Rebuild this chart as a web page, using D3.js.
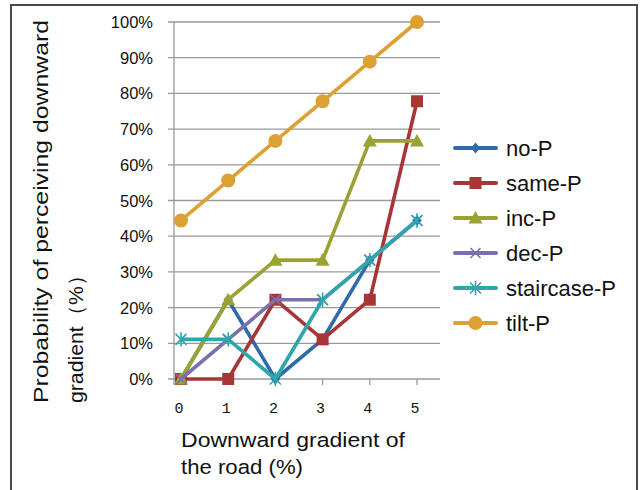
<!DOCTYPE html>
<html><head><meta charset="utf-8">
<script src="https://cdn.jsdelivr.net/npm/d3@7"></script>
<style>body{margin:0;background:#fff}svg{display:block}</style>
</head><body>
<svg id="c" width="642" height="490"></svg>
<script>
const categories = [0, 1, 2, 3, 4, 5];
const seriesNames = ["no-P", "same-P", "inc-P", "dec-P", "staircase-P", "tilt-P"];
const noP = [0, 22.2, 0, 11.1, 33.3, 44.4];
const sameP = [0, 0, 22.2, 11.1, 22.2, 77.8];
const incP = [0, 22.2, 33.3, 33.3, 66.7, 66.7];
const decP = [0, 11.1, 22.2, 22.2, 33.3, 44.4];
const staircaseP = [11.1, 11.1, 0, 22.2, 33.3, 44.4];
const tiltP = [44.4, 55.6, 66.7, 77.8, 88.9, 100];
const yTicks = [0, 10, 20, 30, 40, 50, 60, 70, 80, 90, 100];
const xTitle = ["Downward gradient of", "the road (%)"];
const yTitle = ["Probability of perceiving downward", "gradient（%）"];

const colors = ["#2E6BA8", "#A83636", "#9CA133", "#7B70AC", "#2EA6AC", "#DDA032"];
const symbols = ["diamond", "square", "triangle", "cross", "star", "circle"];
const values = [noP, sameP, incP, decP, staircaseP, tiltP];

const svg = d3.select("#c");
// frame
svg.append("path").attr("d", "M11,492 V5 H637 V492").attr("fill", "none")
  .attr("stroke", "#4a4a4a").attr("stroke-width", 2);

const x = d3.scaleLinear().domain([0, 5]).range([181, 417]);
const y = d3.scaleLinear().domain([0, 100]).range([379, 22]);
const axisLeft = 174, axisRight = 440;

// gridlines
svg.append("g").selectAll("line").data(yTicks).join("line")
  .attr("x1", axisLeft - 6).attr("x2", axisRight)
  .attr("y1", d => y(d)).attr("y2", d => y(d))
  .attr("stroke", "#9a9a9a").attr("stroke-width", 1.3);
// y axis line
svg.append("line").attr("x1", axisLeft).attr("x2", axisLeft)
  .attr("y1", y(100)).attr("y2", y(0) + 6).attr("stroke", "#9a9a9a").attr("stroke-width", 1.3);
// x ticks
svg.append("g").selectAll("line").data(categories.slice(1)).join("line")
  .attr("x1", d => x(d)).attr("x2", d => x(d))
  .attr("y1", y(0)).attr("y2", y(0) + 6)
  .attr("stroke", "#9a9a9a").attr("stroke-width", 1.3);

// y tick labels
svg.append("g").selectAll("text").data(yTicks).join("text")
  .attr("x", 153).attr("y", d => y(d) + 6)
  .attr("text-anchor", "end")
  .attr("font-family", "Liberation Sans, Arial, sans-serif")
  .attr("font-size", 16.5).attr("fill", "#111")
  .text(d => d + "%");
// x tick labels
svg.append("g").selectAll("text").data(categories).join("text")
  .attr("x", d => x(d) - 2).attr("y", 413)
  .attr("text-anchor", "middle")
  .attr("font-family", "Liberation Mono, Courier New, monospace")
  .attr("font-size", 15).attr("fill", "#111")
  .text(d => d);

// x title
svg.append("g").selectAll("text").data(xTitle).join("text")
  .attr("x", 181).attr("y", (d, i) => 447 + i * 27)
  .attr("font-family", "Liberation Sans, Arial, sans-serif")
  .attr("font-size", 20.5).attr("fill", "#111")
  .attr("textLength", (d, i) => i === 0 ? 224 : 122)
  .attr("lengthAdjust", "spacingAndGlyphs")
  .text(d => d);

// y title
svg.append("g").selectAll("text").data(yTitle).join("text")
  .attr("transform", (d, i) => `translate(${48 + i * 35},403) rotate(-90)`)
  .attr("font-family", "Liberation Sans, Arial, sans-serif")
  .attr("font-size", 21).attr("fill", "#111")
  .attr("textLength", (d, i) => i === 0 ? 383 : 138)
  .attr("lengthAdjust", "spacingAndGlyphs")
  .text(d => d);

function drawMarker(g, type, color, cx, cy, scale) {
  const s = scale || 1;
  if (type === "diamond") {
    const r = 5.5 * s;
    g.append("path").attr("d", `M${cx},${cy - r}L${cx + r * 0.85},${cy}L${cx},${cy + r}L${cx - r * 0.85},${cy}Z`).attr("fill", color);
  } else if (type === "square") {
    const r = 6 * s;
    g.append("rect").attr("x", cx - r).attr("y", cy - r).attr("width", 2 * r).attr("height", 2 * r).attr("fill", color);
  } else if (type === "triangle") {
    const r = 7 * s;
    g.append("path").attr("d", `M${cx},${cy - r}L${cx + r},${cy + r * 0.8}L${cx - r},${cy + r * 0.8}Z`).attr("fill", color);
  } else if (type === "cross") {
    const r = 5 * s;
    g.append("path").attr("d", `M${cx - r},${cy - r}L${cx + r},${cy + r}M${cx - r},${cy + r}L${cx + r},${cy - r}`)
      .attr("stroke", color).attr("stroke-width", 1.6).attr("fill", "none");
  } else if (type === "star") {
    const r = 5.5 * s;
    g.append("path").attr("d", `M${cx - r},${cy - r}L${cx + r},${cy + r}M${cx - r},${cy + r}L${cx + r},${cy - r}M${cx},${cy - r * 1.3}L${cx},${cy + r * 1.3}`)
      .attr("stroke", color).attr("stroke-width", 1.6).attr("fill", "none");
  } else if (type === "circle") {
    g.append("circle").attr("cx", cx).attr("cy", cy).attr("r", 7 * s).attr("fill", color);
  }
}

const line = d3.line().x((d, i) => x(categories[i])).y(d => y(d));
values.forEach((vals, si) => {
  const g = svg.append("g");
  g.append("path").attr("d", line(vals)).attr("fill", "none")
    .attr("stroke", colors[si]).attr("stroke-width", 3.6).attr("stroke-linejoin", "round");
  vals.forEach((v, i) => drawMarker(g, symbols[si], colors[si], x(categories[i]), y(v)));
});

// legend
const legendY = [148, 183, 218, 253, 288, 323];
const lg = svg.append("g");
seriesNames.forEach((name, i) => {
  const ly = legendY[i];
  lg.append("line").attr("x1", 455).attr("x2", 496).attr("y1", ly).attr("y2", ly)
    .attr("stroke", colors[i]).attr("stroke-width", 4).attr("stroke-linecap", "round");
  drawMarker(lg, symbols[i], colors[i], 475.5, ly, 1);
  lg.append("text").attr("x", 506).attr("y", ly + 8)
    .attr("font-family", "Liberation Sans, Arial, sans-serif")
    .attr("font-size", 22).attr("fill", "#111")
    .text(name);
});
</script>
</body></html>
